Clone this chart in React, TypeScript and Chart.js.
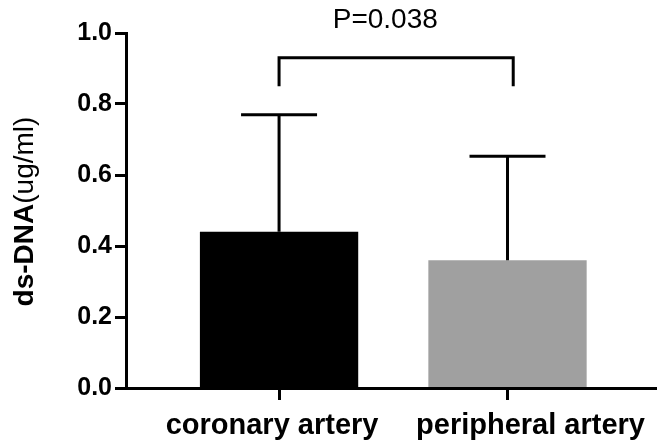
import React, { useEffect, useRef } from 'react';
import { Chart, registerables } from 'chart.js';

Chart.register(...registerables);

// ---- data ----
const categories = ['coronary artery', 'peripheral artery'];
const means = [0.44, 0.36];
const sds = [0.33, 0.293];
const barColors = ['#000000', '#a0a0a0'];
const yTickValues = [0, 0.2, 0.4, 0.6, 0.8, 1.0];
const pText = 'P=0.038';
const bracketFrom = 0;
const bracketTo = 1.025;
const bracketTop = 0.93;
const bracketFoot = 0.85;
const pTextX = 0.465;
const pTextY = 1.014;
const yTitleBold = 'ds-DNA';
const yTitleNormal = '(ug/ml)';

// ---- style ----
const FONT = '"Liberation Sans", Arial, Helvetica, sans-serif';
const labelNudge = [-7, 23];

const annotPlugin = {
  id: 'annot',
  afterDraw(chart: any) {
    const ctx = chart.ctx as CanvasRenderingContext2D;
    const xs = chart.scales.x;
    const ys = chart.scales.y;
    const meta = chart.getDatasetMeta(0);
    ctx.save();
    ctx.strokeStyle = '#000';
    ctx.lineWidth = 3;
    ctx.lineCap = 'butt';
    ctx.lineJoin = 'miter';
    // error bars (upper only)
    meta.data.forEach((bar: any, i: number) => {
      const p = bar.getProps(['x', 'y', 'width'], true);
      const yErr = ys.getPixelForValue(means[i] + sds[i]);
      const half = p.width * 0.24;
      ctx.beginPath();
      ctx.moveTo(p.x, p.y);
      ctx.lineTo(p.x, yErr);
      ctx.moveTo(p.x - half, yErr);
      ctx.lineTo(p.x + half, yErr);
      ctx.stroke();
    });
    // significance bracket
    const bx1 = xs.getPixelForValue(bracketFrom);
    const bx2 = xs.getPixelForValue(bracketTo);
    const by = ys.getPixelForValue(bracketTop);
    const byd = ys.getPixelForValue(bracketFoot);
    ctx.beginPath();
    ctx.moveTo(bx1, byd);
    ctx.lineTo(bx1, by);
    ctx.lineTo(bx2, by);
    ctx.lineTo(bx2, byd);
    ctx.stroke();
    // p value
    ctx.fillStyle = '#000';
    ctx.font = `28px ${FONT}`;
    ctx.textAlign = 'center';
    ctx.textBaseline = 'alphabetic';
    ctx.fillText(pText, xs.getPixelForValue(pTextX), ys.getPixelForValue(pTextY));
    // category labels
    ctx.font = `bold 29px ${FONT}`;
    categories.forEach((c, i) => {
      ctx.fillText(c, xs.getPixelForValue(i) + labelNudge[i], chart.chartArea.bottom + 46);
    });
    // y title
    ctx.save();
    const cy = (chart.chartArea.top + chart.chartArea.bottom) / 2 + 1;
    ctx.translate(33, cy);
    ctx.rotate(-Math.PI / 2);
    ctx.textAlign = 'left';
    ctx.font = `bold 28px ${FONT}`;
    const w1 = ctx.measureText(yTitleBold).width;
    ctx.font = `28px ${FONT}`;
    const w2 = ctx.measureText(yTitleNormal).width;
    const start = -(w1 + w2) / 2;
    ctx.font = `bold 28px ${FONT}`;
    ctx.fillText(yTitleBold, start, 0);
    ctx.font = `28px ${FONT}`;
    ctx.fillText(yTitleNormal, start + w1, 0);
    ctx.restore();
    ctx.restore();
  },
};

export default function App() {
  const ref = useRef<HTMLCanvasElement>(null);
  useEffect(() => {
    document.body.style.margin = '0';
    const chart = new Chart(ref.current as HTMLCanvasElement, {
      type: 'bar',
      data: {
        datasets: [
          {
            data: means.map((m, i) => ({ x: i, y: m })),
            backgroundColor: barColors,
            borderWidth: 0,
            categoryPercentage: 1,
            barPercentage: 0.693,
          } as any,
        ],
      },
      options: {
        animation: false,
        responsive: false,
        maintainAspectRatio: false,
        layout: { padding: { left: 0, top: 33, right: 10, bottom: 0 } },
        plugins: { legend: { display: false }, tooltip: { enabled: false } },
        scales: {
          x: {
            type: 'linear',
            offset: false,
            min: -0.67,
            max: 1.65,
            afterBuildTicks: (s: any) => {
              s.ticks = categories.map((_, i) => ({ value: i }));
            },
            ticks: { callback: () => '', padding: 0 },
            grid: {
              display: true,
              offset: false,
              drawOnChartArea: false,
              drawTicks: true,
              tickLength: 12,
              tickWidth: 3,
              tickColor: '#000',
            },
            border: { display: true, width: 3, color: '#000', z: 1 },
            afterFit: (s: any) => {
              s.height = 58;
            },
          },
          y: {
            min: 0,
            max: 1,
            afterBuildTicks: (s: any) => {
              s.ticks = yTickValues.map((v) => ({ value: v }));
            },
            ticks: {
              callback: (v: any) => Number(v).toFixed(1),
              color: '#000',
              font: { family: FONT, size: 25, weight: 'bold' },
              padding: 3,
            },
            grid: {
              display: true,
              drawOnChartArea: false,
              drawTicks: true,
              tickLength: 11,
              tickWidth: 3,
              tickColor: '#000',
            },
            border: { display: true, width: 3, color: '#000', z: 1 },
            afterFit: (s: any) => {
              s.width = 126;
            },
          },
        },
      } as any,
      plugins: [annotPlugin],
    });
    return () => chart.destroy();
  }, []);
  return <canvas ref={ref} width={666} height={446} style={{ display: 'block' }} />;
}
